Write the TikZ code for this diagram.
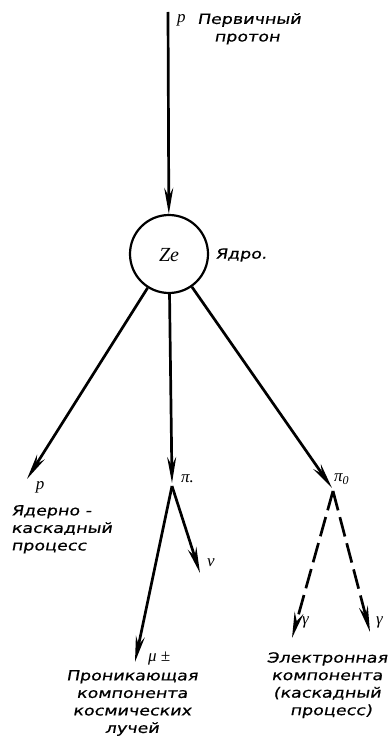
\documentclass[tikz,border=0pt]{standalone}
\usepackage{fontspec}
\newfontfamily\lab[FakeSlant=0.18,FakeStretch=1.25,FakeBold=0.6]{DejaVu Sans}
\newfontfamily\gk{Liberation Serif}
\usetikzlibrary{arrows.meta}
\begin{document}
\begin{tikzpicture}[x=1pt,y=-1pt,
  ray/.style={line width=2.7pt,-{Stealth[length=26pt,width=9pt]}},
  dray/.style={ray,dash pattern=on 20pt off 7pt},
  txt/.style={font=\lab\fontsize{14}{17.5}\selectfont,inner sep=0pt,align=center},
  sym/.style={font=\gk\itshape\fontsize{17}{19}\selectfont,inner sep=0pt}]
\useasboundingbox (0,0) rectangle (388,749);
\coordinate (src) at (168,12);
\node[circle,draw,line width=2.2pt,minimum size=78pt,inner sep=0pt] (nuc) at (169,254) {};
\node[sym,font=\gk\itshape\fontsize{20}{22}\selectfont] (ze) at (169,255) {Ze};
\node[txt,anchor=west] (yadro) at (215,255) {Ядро.};
\node[sym,anchor=west] (plab) at (177,20) {p};
\node[txt,anchor=west] (perv) at (197,20) {Первичный};
\node[txt,anchor=west] (prot) at (214,39) {протон};
\draw[ray] (src) -- (nuc);
\coordinate (pL) at (27,479);
\coordinate (piP) at (172,483);
\coordinate (piZ) at (332,488);
\draw[ray] (nuc) -- (pL);
\draw[ray] (nuc) -- (piP);
\draw[ray] (nuc) -- (piZ);
\node[sym] (p2) at (40,487) {p};
\node[txt,anchor=north west,align=left] (yad) at (11,505) {Ядерно -\\каскадный\\процесс};
\node[sym,anchor=west] (pipl) at (181,479) {π.};
\coordinate (piPs) at (172,486);
\coordinate (mu) at (135,662);
\coordinate (nu) at (200,573);
\draw[ray] (piPs) -- (mu);
\draw[ray] (piPs) -- (nu);
\node[sym,anchor=west] (nul) at (207,563) {ν};
\node[sym,anchor=west] (mul) at (148,659) {μ ±};
\node[txt,anchor=north] (pron) at (132,670) {Проникающая\\компонента\\космических\\лучей};
\node[sym,anchor=west] (pi0l) at (334,479) {π\raisebox{-0.35ex}{\fontsize{12}{12}\selectfont 0}};
\coordinate (piZs) at (333,491);
\coordinate (g1) at (292,638);
\coordinate (g2) at (370,632);
\draw[dray] (piZs) -- (g1);
\draw[dray] (piZs) -- (g2);
\node[sym,anchor=west] (g1l) at (302,622) {γ};
\node[sym,anchor=west] (g2l) at (376,622) {γ};
\node[txt,anchor=north] (el) at (327,652) {Электронная\\компонента\\(каскадный\\\hspace*{8pt}процесс)};
\end{tikzpicture}
\end{document}
